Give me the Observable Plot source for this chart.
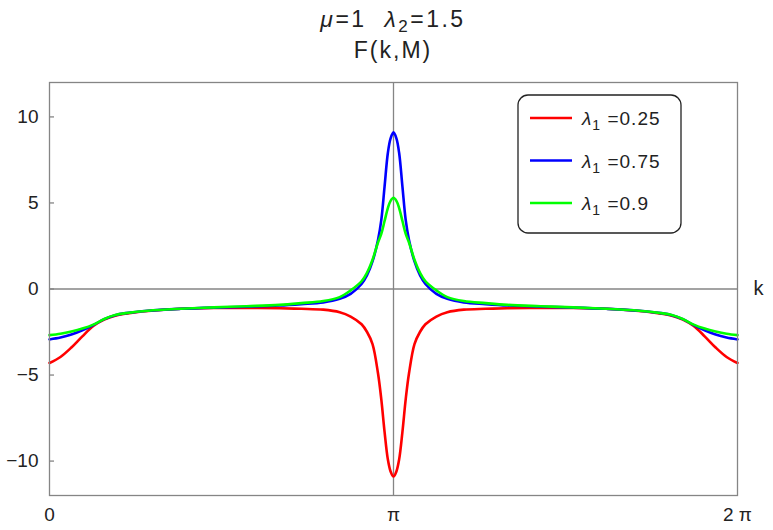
<!DOCTYPE html>
<html>
<head>
<meta charset="utf-8">
<script src="https://cdn.jsdelivr.net/npm/d3@7"></script>
<script src="https://cdn.jsdelivr.net/npm/@observablehq/plot@0.6"></script>
<style>
  html, body { margin: 0; padding: 0; background: #fff; }
  #chart svg { display: block; }
</style>
</head>
<body>
<div id="chart"></div>
<script>
// ---- data ----
const k = [0,0.1,0.2,0.3,0.4,0.5,0.6,0.7,0.9,1.2,1.5,1.8,2.1,2.3,2.5,2.65,2.75,2.85,2.9,2.95,3.0,3.03,3.06,3.09,3.115,3.1416,
           3.1682,3.1932,3.2232,3.2532,3.2832,3.3332,3.3832,3.4332,3.5332,3.6332,3.7832,3.9832,4.1832,4.4832,4.7832,5.0832,5.3832,5.5832,5.6832,5.7832,5.8832,5.9832,6.0832,6.1832,6.2832];
const red = [-4.3,-3.95,-3.4,-2.75,-2.15,-1.78,-1.55,-1.43,-1.28,-1.15,-1.1,-1.1,-1.12,-1.15,-1.2,-1.35,-1.6,-2.05,-2.5,-3.2,-4.9,-6.4,-8.3,-9.9,-10.6,-10.9,
             -10.6,-9.9,-8.3,-6.4,-4.9,-3.2,-2.5,-2.05,-1.6,-1.35,-1.2,-1.15,-1.12,-1.1,-1.1,-1.15,-1.28,-1.43,-1.55,-1.78,-2.15,-2.75,-3.4,-3.95,-4.3];
const blue = [-2.93,-2.82,-2.65,-2.4,-2.1,-1.75,-1.52,-1.4,-1.26,-1.15,-1.08,-1.03,-0.96,-0.88,-0.78,-0.57,-0.28,0.29,0.8,1.6,2.85,4.0,5.95,7.9,8.75,9.1,
              8.75,7.9,5.95,4.0,2.85,1.6,0.8,0.29,-0.28,-0.57,-0.78,-0.88,-0.96,-1.03,-1.08,-1.15,-1.26,-1.4,-1.52,-1.75,-2.1,-2.4,-2.65,-2.82,-2.93];
const green = [-2.68,-2.6,-2.47,-2.3,-2.07,-1.74,-1.51,-1.4,-1.26,-1.15,-1.07,-1.0,-0.92,-0.82,-0.7,-0.47,-0.08,0.45,0.95,1.7,2.7,3.2,3.95,4.7,5.12,5.3,
               5.12,4.7,3.95,3.2,2.7,1.7,0.95,0.45,-0.08,-0.47,-0.7,-0.82,-0.92,-1.0,-1.07,-1.15,-1.26,-1.4,-1.51,-1.74,-2.07,-2.3,-2.47,-2.6,-2.68];
const seriesNames = ["0.25", "0.75", "0.9"];
const seriesColors = ["#ff0000", "#0000ff", "#00ff00"];
const xTicks = [0, Math.PI, 2 * Math.PI];
const xTickLabels = ["0", "\u03c0", "2 \u03c0"];
const yTicks = [-10, -5, 0, 5, 10];
const yDomain = [-12, 12];

// ---- build table ----
const seriesValues = [red, blue, green];
const rows = [];
seriesValues.forEach((vals, s) => vals.forEach((v, i) => rows.push({k: k[i], v, s: seriesNames[s]})));

const W = 773, H = 530;
const font = "'Liberation Sans', Arial, sans-serif";
const gray = "#858585";
const ink = "#222";

const plot = Plot.plot({
  width: W, height: H,
  marginLeft: 49, marginRight: 36, marginTop: 82, marginBottom: 35,
  style: {fontFamily: font, background: "#fff", overflow: "visible"},
  x: {domain: [0, 2 * Math.PI], label: null},
  y: {domain: yDomain, label: null},
  color: {domain: seriesNames, range: seriesColors},
  marks: [
    Plot.ruleY([0], {stroke: gray, strokeWidth: 1.3}),
    Plot.ruleX([xTicks[1]], {stroke: gray, strokeWidth: 1.3}),
    Plot.line(rows, {x: "k", y: "v", z: "s", stroke: "s", strokeWidth: 2.6, curve: "catmull-rom"}),
    Plot.frame({stroke: gray, strokeWidth: 1.3}),
    Plot.axisY(yTicks, {anchor: "left", label: null, tickSize: -5, tickPadding: 16, stroke: gray, strokeWidth: 1.3,
      fontSize: 19, fill: ink, tickFormat: d => d < 0 ? "\u2212" + Math.abs(d) : String(d)}),
    Plot.axisX(xTicks, {anchor: "bottom", label: null, tickSize: 0, tickPadding: 12, fontSize: 19, fill: ink,
      tickFormat: (d, i) => xTickLabels[i]}),
    Plot.text(["k"], {x: xTicks[2], y: 0, dx: 16, textAnchor: "start", fontSize: 20, fill: ink})
  ]
});

document.getElementById("chart").appendChild(plot);

const svg = d3.select(plot);

// ---- title ----
const t1 = svg.append("text").attr("x", 393).attr("y", 27).attr("text-anchor", "middle")
  .attr("font-family", font).attr("font-size", 23).attr("letter-spacing", 2.5).attr("fill", ink)
  .attr("xml:space", "preserve");
t1.append("tspan").attr("font-style", "italic").text("\u03bc");
t1.append("tspan").text("=1  ");
t1.append("tspan").attr("font-style", "italic").text("\u03bb");
t1.append("tspan").attr("font-size", 17).attr("dy", 5).text("2");
t1.append("tspan").attr("dy", -5).text("=1.5");

svg.append("text").attr("x", 393).attr("y", 58).attr("text-anchor", "middle")
  .attr("font-family", font).attr("font-size", 23).attr("letter-spacing", 2).attr("fill", ink).text("F(k,M)");

// ---- legend ----
const lg = svg.append("g");
lg.append("rect").attr("x", 518).attr("y", 95).attr("width", 163).attr("height", 138)
  .attr("rx", 10).attr("fill", "#fff").attr("stroke", ink).attr("stroke-width", 1.3);
seriesNames.forEach((name, i) => {
  const yy = 118 + i * 42.5;
  lg.append("line").attr("x1", 530).attr("x2", 572).attr("y1", yy).attr("y2", yy)
    .attr("stroke", seriesColors[i]).attr("stroke-width", 2.6);
  const tx = lg.append("text").attr("x", 582).attr("y", yy + 7).attr("text-anchor", "start")
    .attr("font-family", font).attr("font-size", 19).attr("letter-spacing", 1).attr("fill", ink)
    .attr("xml:space", "preserve");
  tx.append("tspan").attr("font-style", "italic").text("\u03bb");
  tx.append("tspan").attr("font-size", 14).attr("dy", 5).text("1");
  tx.append("tspan").attr("dy", -5).text(" =" + name);
});
</script>
</body>
</html>
